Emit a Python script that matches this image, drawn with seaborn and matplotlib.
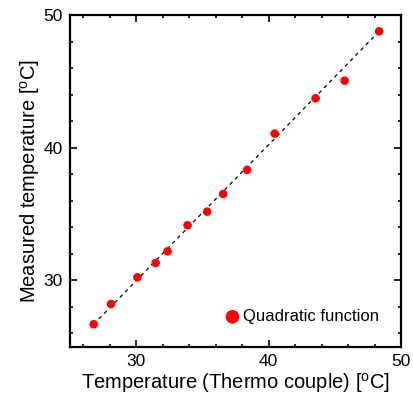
import matplotlib
matplotlib.use("Agg")
import matplotlib.pyplot as plt
import seaborn as sns
import pandas as pd
from matplotlib.ticker import MultipleLocator

thermo_couple = [26.79, 28.10, 30.09, 31.47, 32.37, 33.88, 35.36, 36.57, 38.38, 40.46, 43.55, 45.74, 48.35]
measured = [26.69, 28.22, 30.23, 31.31, 32.19, 34.15, 35.18, 36.51, 38.32, 41.06, 43.72, 45.05, 48.77]
fit_x = [26.79, 48.35]
fit_y = [26.69, 48.77]
series_label = "Quadratic function"

sns.set_style("white")
plt.rcParams['font.family'] = ['Liberation Sans', 'DejaVu Sans']
plt.rcParams['mathtext.fontset'] = 'custom'
plt.rcParams['mathtext.rm'] = 'Liberation Sans'
plt.rcParams['text.color'] = 'black'
plt.rcParams['axes.labelcolor'] = 'black'

df = pd.DataFrame({"x": thermo_couple, "y": measured})
line_df = pd.DataFrame({"x": fit_x, "y": fit_y})

fig = plt.figure(figsize=(4.13, 3.97), dpi=100)
ax = fig.add_axes([0.1695, 0.1267, 0.8015, 0.8355])

sns.lineplot(data=line_df, x="x", y="y", ax=ax, color="black", lw=0.9,
             linestyle=(0, (3, 3)), legend=False)
sns.scatterplot(data=df, x="x", y="y", ax=ax, color="#ff0000", s=38,
                edgecolor="none", label=series_label, zorder=3)

ax.set_xlim(25, 50)
ax.set_ylim(25, 50)
ax.xaxis.set_major_locator(MultipleLocator(10))
ax.yaxis.set_major_locator(MultipleLocator(10))
ax.xaxis.set_minor_locator(MultipleLocator(2))
ax.yaxis.set_minor_locator(MultipleLocator(2))
ax.tick_params(which="both", direction="in", top=True, right=True, bottom=True, left=True,
               width=1.2, colors="black", labelcolor="black", labelsize=12.5, pad=5)
ax.tick_params(which="major", length=5)
ax.tick_params(which="minor", length=2.5)
for s in ax.spines.values():
    s.set_linewidth(1.6)
    s.set_color("black")

ax.set_xlabel(r"Temperature (Thermo couple) [$^{\mathregular{o}}$C]", fontsize=14.5, labelpad=2, color="black")
ax.set_ylabel(r"Measured temperature [$^{\mathregular{o}}$C]", fontsize=14.5, labelpad=1, color="black")

leg = ax.legend(loc="lower right", frameon=False, fontsize=12, handletextpad=0.0,
                markerscale=1.6, borderaxespad=0.95, handlelength=1.2)
for t in leg.get_texts():
    t.set_color("black")

fig.savefig("out.png", dpi=100)
